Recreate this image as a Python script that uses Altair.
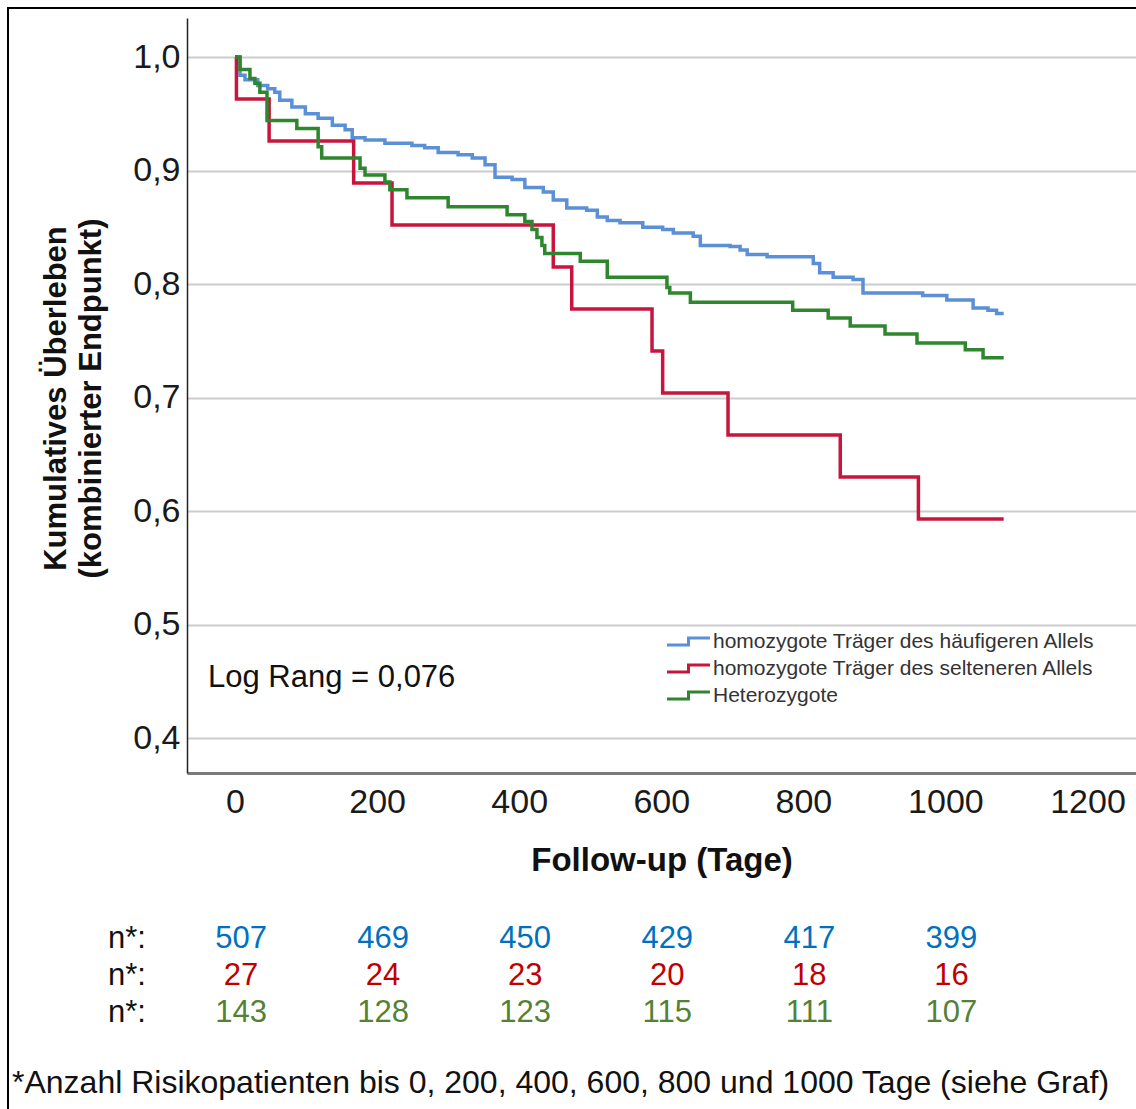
import altair as alt
import pandas as pd

FONT = "Liberation Sans"

GROUPS = [
    "homozygote Träger des häufigeren Allels",
    "homozygote Träger des selteneren Allels",
    "Heterozygote",
]
LINE_COLORS = ["#5B8FD6", "#C8153D", "#2E862E"]

blue_days = [0, 7, 14, 32, 46, 56, 63, 80, 99, 117, 137, 155, 165, 183, 211, 249, 267, 286, 314, 334,
             352, 366, 390, 408, 434, 448, 467, 495, 510, 524, 542, 574, 602, 617, 645, 655, 697, 711, 721, 749,
             814, 823, 842, 870, 884, 968, 1002, 1039, 1060, 1072, 1082]
blue_surv = [1.0, 0.984, 0.980, 0.975, 0.972, 0.969, 0.962, 0.956, 0.950, 0.946, 0.940, 0.936, 0.929, 0.927,
             0.924, 0.922, 0.920, 0.916, 0.914, 0.911, 0.905, 0.894, 0.892, 0.885, 0.881, 0.874, 0.867, 0.865,
             0.859, 0.856, 0.854, 0.850, 0.848, 0.845, 0.842, 0.834, 0.833, 0.830, 0.826, 0.824, 0.818, 0.810,
             0.806, 0.804, 0.792, 0.790, 0.786, 0.779, 0.777, 0.774, 0.774]

red_days = [0, 2, 48, 167, 221, 448, 474, 587, 602, 694, 852, 962, 1082]
red_surv = [1.0, 0.963, 0.926, 0.889, 0.852, 0.815, 0.778, 0.741, 0.704, 0.667, 0.630, 0.593, 0.593]

green_days = [0, 7, 21, 28, 35, 45, 87, 117, 122, 176, 183, 211, 218, 242, 300, 383, 408, 418, 425, 432,
              436, 486, 524, 608, 612, 641, 785, 835, 866, 915, 960, 1028, 1053, 1082]
green_surv = [1.0, 0.989, 0.981, 0.977, 0.969, 0.944, 0.937, 0.921, 0.911, 0.902, 0.896, 0.890, 0.883,
              0.876, 0.868, 0.861, 0.855, 0.848, 0.841, 0.834, 0.827, 0.820, 0.806, 0.797, 0.792, 0.784,
              0.777, 0.770, 0.763, 0.756, 0.748, 0.742, 0.735, 0.735]

risk_days = [0, 200, 400, 600, 800, 1000]
risk_blue = [507, 469, 450, 429, 417, 399]
risk_red = [27, 24, 23, 20, 18, 16]
risk_green = [143, 128, 123, 115, 111, 107]
RISK_COLORS = ["#0070C0", "#C00000", "#548235"]

x_ticks = [0, 200, 400, 600, 800, 1000, 1200]
y_ticks = [0.4, 0.5, 0.6, 0.7, 0.8, 0.9, 1.0]

footnote = "*Anzahl Risikopatienten bis 0, 200, 400, 600, 800 und 1000 Tage (siehe Graf)"
log_rank = "Log Rang = 0,076"

# ---- data table
rows = []
for g, days, surv in [(GROUPS[0], blue_days, blue_surv), (GROUPS[1], red_days, red_surv),
                      (GROUPS[2], green_days, green_surv)]:
    for d, s in zip(days, surv):
        rows.append({"group": g, "day": d, "surv": s})
curves = pd.DataFrame(rows)

W, H = 949, 755

x_enc = alt.X(
    "day:Q",
    scale=alt.Scale(domain=[-67.6, 1268.3], nice=False, zero=False),
    axis=alt.Axis(
        values=x_ticks, format="d", labelFont=FONT, labelFontSize=34, labelColor="#1a1a1a",
        labelPadding=12, ticks=False, tickSize=0, labelFlush=False, labelOverlap=False,
        domainColor="#7a7a7a", domainWidth=3, grid=False,
        title="Follow-up (Tage)", titleFont=FONT, titleFontSize=33, titleFontWeight="bold",
        titleColor="#111", titleY=87, titleBaseline="middle",
    ),
)

y_enc = alt.Y(
    "surv:Q",
    scale=alt.Scale(domain=[0.3692, 1.0344], nice=False, zero=False),
    axis=alt.Axis(
        values=y_ticks, labelExpr="replace(format(datum.value, '.1f'), '.', ',')",
        labelFont=FONT, labelFontSize=34, labelColor="#1a1a1a", labelPadding=7,
        ticks=False, tickSize=0, domainColor="#222", domainWidth=1.5,
        grid=True, gridColor="#cccccc", gridWidth=2,
        title=["Kumulatives Überleben", "(kombinierter Endpunkt)"],
        titleFont=FONT, titleFontSize=31, titleFontWeight="bold", titleColor="#111",
        titleAngle=270, titleX=-131, titleY=380, titleBaseline="middle", titleAlign="center",
        titleLineHeight=35,
    ),
)

lines = alt.Chart(curves).mark_line(interpolate="step-after", strokeWidth=3.5).encode(
    x=x_enc,
    y=y_enc,
    color=alt.Color(
        "group:N",
        scale=alt.Scale(domain=GROUPS, range=LINE_COLORS),
        legend=alt.Legend(
            title=None, orient="none", legendX=489, legendY=611,
            symbolType="M-2,0.32L0,0.32L0,-0.32L2,-0.32", symbolSize=462,
            symbolStrokeWidth=3, symbolFillColor="transparent",
            labelFont=FONT, labelFontSize=21, labelColor="#333", labelOffset=12,
            labelLimit=0, rowPadding=4,
        ),
    ),
    order=alt.Order("day:Q"),
)

one = pd.DataFrame({"a": [0]})

log_text = alt.Chart(one).mark_text(
    text=log_rank, align="left", baseline="middle", font=FONT, fontSize=31, color="#111"
).encode(x=alt.value(21), y=alt.value(660))

row_y = [921, 958, 995]
layers = [lines, log_text]
for vals, col, yy in zip([risk_blue, risk_red, risk_green], RISK_COLORS, row_y):
    df = pd.DataFrame({"day": risk_days, "n": vals})
    layers.append(
        alt.Chart(df).mark_text(font=FONT, fontSize=31, color=col, baseline="middle", dx=6).encode(
            x=x_enc, y=alt.value(yy), text="n:Q"
        )
    )
    layers.append(
        alt.Chart(one).mark_text(text="n*:", font=FONT, fontSize=31, color="#111",
                                 baseline="middle", align="center").encode(
            x=alt.value(-60), y=alt.value(yy)
        )
    )

foot = alt.Chart(one).mark_text(
    text=footnote, align="left", baseline="middle", font=FONT, fontSize=32, color="#111"
).encode(x=alt.value(-175), y=alt.value(1065))
layers.append(foot)

left_border = alt.Chart(one).mark_rule(color="black", strokeWidth=2).encode(
    x=alt.value(-179), y=alt.value(-10), y2=alt.value(1095)
)
top_border = alt.Chart(one).mark_rule(color="black", strokeWidth=2).encode(
    x=alt.value(-180), x2=alt.value(960), y=alt.value(-10)
)
layers += [left_border, top_border]

chart = alt.layer(*layers).properties(
    width=W, height=H,
    padding={"left": 187, "top": 18, "right": 0, "bottom": 336},
    autosize=alt.AutoSizeParams(type="none"),
    background="white",
).configure_view(strokeWidth=0)

chart.save("out.html", embed_options={"renderer": "svg", "actions": False})
